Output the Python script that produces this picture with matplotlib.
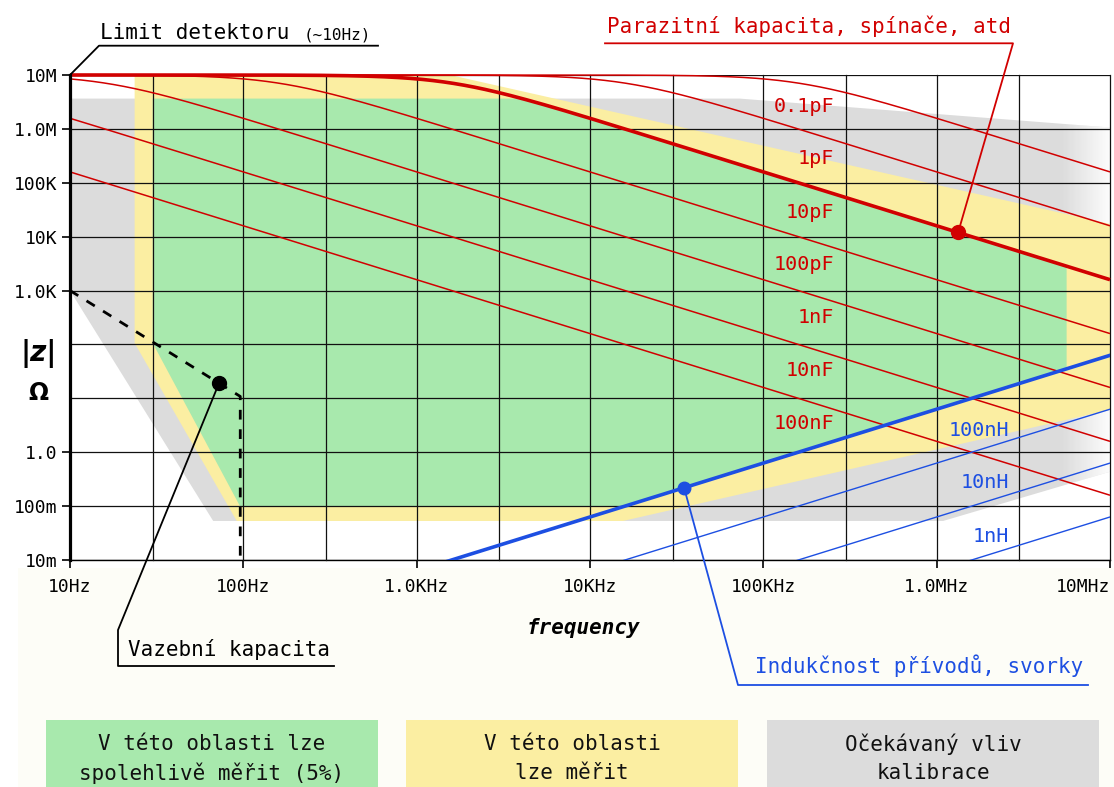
import numpy as np
import matplotlib
matplotlib.use('Agg')
import matplotlib.pyplot as plt
from matplotlib.patches import Polygon, Rectangle
from matplotlib.lines import Line2D

plt.rcParams['font.family'] = ['DejaVu Sans Mono', 'DejaVu Sans']

# ---------------- data ----------------
R_LIMIT = 10e6                      # detector limit (10 MOhm)
cap_labels = ['0.1pF', '1pF', '10pF', '100pF', '1nF', '10nF', '100nF']
cap_values = [0.1e-12, 1e-12, 10e-12, 100e-12, 1e-9, 10e-9, 100e-9]
cap_thick = '10pF'
ind_labels = ['1nH', '10nH', '100nH', '1µH']
ind_values = [1e-9, 1e-8, 1e-7, 1e-6]
ind_thick = '1µH'
ind_shown = ['100nH', '10nH', '1nH']

x_ticks = [10, 100, 1e3, 1e4, 1e5, 1e6, 1e7]
x_tick_labels = ['10Hz', '100Hz', '1.0KHz', '10KHz', '100KHz', '1.0MHz', '10MHz']
y_ticks = [1e-2, 1e-1, 1, 1e3, 1e4, 1e5, 1e6, 1e7]
y_tick_labels = ['10m', '100m', '1.0', '1.0K', '10K', '100K', '1.0M', '10M']
x_grid = [10, 30, 100, 300, 1e3, 3e3, 1e4, 3e4, 1e5, 3e5, 1e6, 3e6, 1e7]
y_grid = [1e-2, 1e-1, 1, 10, 100, 1e3, 1e4, 1e5, 1e6, 1e7]

grey_f = [10, 7.3e4, 1e7, 1e7, 1.09e6, 67, 10]
grey_z = [3.65e6, 3.65e6, 1.06e6, 0.435, 0.053, 0.053, 1000]
yellow_f = [23.6, 1.56e3, 1e7, 1e7, 1.55e4, 91.6, 23.6]
yellow_z = [1e7, 1e7, 1.72e4, 6.1, 0.053, 0.053, 106]
green_ceiling = 3.65e6
green_floor = 0.0975
green_left_f = [30, 96]
green_left_z = [106, 0.0975]
green_right_f = 5.62e6
fade_start_f = 5.28e6

vaz_f = [10, 96, 96]
vaz_z = [1000, 10.85, 0.01]
vaz_dot_f = 72.4
red_dot_f = 1.33e6
blue_dot_f = 3.49e4

RED = '#d10000'
BLUE = '#1d4fe2'
GREEN = '#a8e9ad'
YELLOW = '#fbeea2'
GREY = '#dcdcdc'
CREAM = '#fdfdf7'

W, H = 1114, 787
fig = plt.figure(figsize=(W / 100, H / 100), dpi=100, facecolor='white')


def P(x, y):
    return (x / W, 1 - y / H)


ax = fig.add_axes([70 / W, 1 - 560 / H, 1040 / W, 485 / H])
ax.set_xscale('log')
ax.set_yscale('log')
ax.set_xlim(10, 1e7)
ax.set_ylim(1e-2, 1e7)
ax.set_facecolor('white')

fig.patches.append(Rectangle(P(18, 787), (W - 18) / W, (787 - 568) / H,
                             transform=fig.transFigure, facecolor=CREAM,
                             edgecolor='none', zorder=-5))


def z_cap(f, C):
    return R_LIMIT / np.sqrt(1 + (2 * np.pi * f * R_LIMIT * C) ** 2)


def z_ind(f, L):
    return 2 * np.pi * f * L


freq = np.logspace(1, 7, 600)

# ---- regions ----
grey_patch = Polygon(np.column_stack([grey_f, grey_z]), closed=True,
                     facecolor=GREY, edgecolor='none', zorder=1)
ax.add_patch(grey_patch)
fade_edges = np.logspace(np.log10(fade_start_f), 7, 41)
for i in range(40):
    a = 0.93 * (i + 0.5) / 40
    r = Rectangle((fade_edges[i], 1e-2), fade_edges[i + 1] - fade_edges[i], 1e7,
                  facecolor='white', edgecolor='none', alpha=a, zorder=1.1)
    ax.add_patch(r)
    r.set_clip_path(grey_patch)

ax.add_patch(Polygon(np.column_stack([yellow_f, yellow_z]), closed=True,
                     facecolor=YELLOW, edgecolor='none', zorder=2))

C_thick = cap_values[cap_labels.index(cap_thick)]
L_thick = ind_values[ind_labels.index(ind_thick)]
gf = np.logspace(np.log10(green_left_f[0]), np.log10(green_right_f), 300)
gtop = np.minimum(green_ceiling, z_cap(gf, C_thick))
f_floor = green_floor / (2 * np.pi * L_thick)
green_pts = ([(green_left_f[0], green_left_z[0])] + list(zip(gf, gtop)) +
             [(green_right_f, z_ind(green_right_f, L_thick)),
              (f_floor, green_floor), (green_left_f[1], green_left_z[1])])
ax.add_patch(Polygon(green_pts, closed=True, facecolor=GREEN,
                     edgecolor='none', zorder=3))

# ---- grid ----
for xv in x_grid:
    ax.axvline(xv, color='#111111', lw=0.9, zorder=4, clip_on=False)
for yv in y_grid:
    ax.axhline(yv, color='#111111', lw=0.9, zorder=4)

# ---- impedance lines ----
for lab, C in zip(cap_labels, cap_values):
    thick = lab == cap_thick
    ax.plot(freq, z_cap(freq, C), color=RED, lw=2.6 if thick else 1.1,
            zorder=6 if thick else 5, clip_on=False, solid_capstyle='butt')
for lab, L in zip(ind_labels, ind_values):
    thick = lab == ind_thick
    ax.plot(freq, z_ind(freq, L), color=BLUE, lw=2.6 if thick else 1.0,
            zorder=6 if thick else 5)

ax.plot(vaz_f, vaz_z, color='black', lw=2.0, ls=(0, (3.5, 3.5)), zorder=6)

# ---- labels on lines ----
cap_label_y = [106.7, 159, 212, 265, 317.7, 370.7, 424]
for lab, yy in zip(cap_labels, cap_label_y):
    fig.text(*P(834, yy), lab, color=RED, fontsize=14.5, ha='right',
             va='center', zorder=10)
ind_label_y = [430, 483, 537]
for lab, yy in zip(ind_shown, ind_label_y):
    fig.text(*P(1009, yy), lab, color=BLUE, fontsize=14.5, ha='right',
             va='center', zorder=10)

# ---- axes styling ----
for s in ['top', 'right']:
    ax.spines[s].set_visible(False)
ax.spines['left'].set_linewidth(2.3)
ax.spines['bottom'].set_linewidth(1.0)
ax.spines['left'].set_zorder(8)
ax.set_xticks(x_ticks)
ax.set_xticklabels(x_tick_labels)
ax.set_yticks(y_ticks)
ax.set_yticklabels(y_tick_labels)
ax.minorticks_off()
ax.tick_params(axis='x', direction='out', length=6, width=1.2, labelsize=13, pad=7)
ax.tick_params(axis='y', direction='out', length=6, width=1.2, labelsize=13, pad=3)
ax.get_xticklabels()[-1].set_horizontalalignment('right')

fig.text(*P(583, 634), 'frequency', fontsize=15, fontweight='bold',
         fontstyle='italic', ha='center', va='baseline')
fig.text(*P(39, 354), '|z|', fontsize=20, fontweight='bold', fontstyle='italic',
         family='DejaVu Sans', ha='center', va='center')
fig.text(*P(38, 393), 'Ω', fontsize=17, fontweight='bold', family='DejaVu Sans',
         ha='center', va='center')

# ---- annotations ----
to_fig = fig.transFigure.inverted()


def D(f, z):
    return tuple(to_fig.transform(ax.transData.transform((f, z))))


def leader(points, color):
    xs = [p[0] for p in points]
    ys = [p[1] for p in points]
    fig.add_artist(Line2D(xs, ys, transform=fig.transFigure, color=color,
                          lw=1.3, zorder=20))


def dot(pt, color, size):
    fig.add_artist(Line2D([pt[0]], [pt[1]], transform=fig.transFigure,
                          marker='o', ms=size, color=color, zorder=21))


# detector limit
leader([D(10, R_LIMIT), P(99, 45.7), P(378, 45.7)], 'black')
fig.text(*P(100, 39), 'Limit detektoru', fontsize=15, ha='left', va='baseline')
fig.text(*P(304, 39), '(~10Hz)', fontsize=11.5, ha='left', va='baseline')

# parasitic capacitance
red_pt = D(red_dot_f, z_cap(red_dot_f, C_thick))
leader([red_pt, P(1013, 43.3), P(605, 43.3)], RED)
dot(red_pt, RED, 10)
fig.text(*P(607, 33), 'Parazitní kapacita, spínače, atd', fontsize=15,
         color=RED, ha='left', va='baseline')

# coupling capacitance
vaz_pt = D(vaz_dot_f, vaz_z[0] * (vaz_f[0] / vaz_dot_f) ** 2)
leader([vaz_pt, P(118, 630), P(118, 666), P(334, 666)], 'black')
dot(vaz_pt, 'black', 10)
fig.text(*P(128, 656), 'Vazební kapacita', fontsize=15, ha='left', va='baseline')

# lead inductance
blue_pt = D(blue_dot_f, z_ind(blue_dot_f, L_thick))
leader([blue_pt, P(738, 685), P(1088, 685)], BLUE)
dot(blue_pt, BLUE, 9)
fig.text(*P(755, 673), 'Indukčnost přívodů, svorky', fontsize=15,
         color=BLUE, ha='left', va='baseline')

# ---- legend boxes ----
boxes = [(46, 378, GREEN, 'V této oblasti lze\nspolehlivě měřit (5%)'),
         (406, 738, YELLOW, 'V této oblasti\nlze měřit'),
         (767, 1099, GREY, 'Očekávaný vliv\nkalibrace')]
for x0, x1, col, txt in boxes:
    fig.patches.append(Rectangle(P(x0, 787), (x1 - x0) / W, 67 / H,
                                 transform=fig.transFigure, facecolor=col,
                                 edgecolor='none', zorder=1))
    l1, l2 = txt.split('\n')
    fig.text(*P((x0 + x1) / 2, 744), l1, fontsize=15, ha='center', va='center',
             color='#111111', zorder=2)
    fig.text(*P((x0 + x1) / 2, 773), l2, fontsize=15, ha='center', va='center',
             color='#111111', zorder=2)

fig.savefig('out.png', dpi=100, facecolor='white')
